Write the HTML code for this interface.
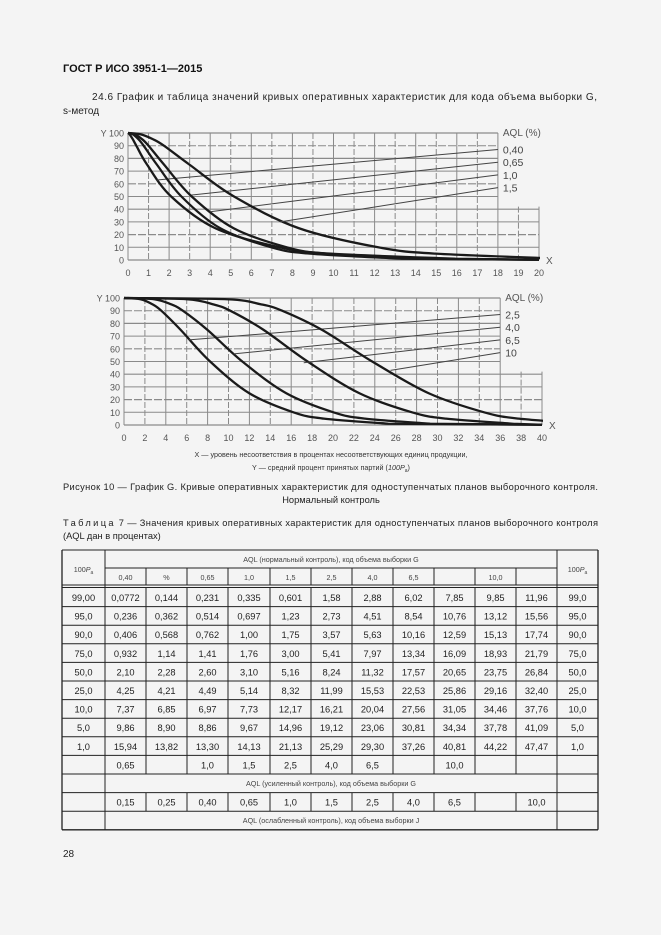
<!DOCTYPE html>
<html><head><meta charset="utf-8">
<style>
html,body{margin:0;padding:0;background:#f4f4f4;}
svg{display:block;font-family:"Liberation Sans","DejaVu Sans",sans-serif;}
</style></head>
<body>
<svg id="pg" width="661" height="935" viewBox="0 0 661 935" xmlns="http://www.w3.org/2000/svg">
<rect width="661" height="935" fill="#f4f4f4"/>
<text x="63" y="72" font-size="11" font-weight="bold" fill="#111">ГОСТ Р ИСО 3951-1—2015</text>
<text x="92" y="100" font-size="10" fill="#222" textLength="505">24.6 График и таблица значений кривых оперативных характеристик для кода объема выборки G,</text>
<text x="63" y="114" font-size="10" fill="#222">s-метод</text>
<g id="c1"></g>
<g id="c2"></g>
<text x="331" y="457" font-size="7.2" fill="#333" text-anchor="middle">X — уровень несоответствия в процентах несоответствующих единиц продукции,</text>
<text x="331" y="470" font-size="7.2" fill="#333" text-anchor="middle">Y — средний процент принятых партий (<tspan font-style="italic">100P</tspan><tspan font-size="5" dy="2">a</tspan><tspan dy="-2">)</tspan></text>
<text x="63" y="490" font-size="9.3" fill="#222" textLength="535">Рисунок 10 — График G. Кривые оперативных характеристик для одноступенчатых планов выборочного контроля.</text>
<text x="331" y="503" font-size="9.3" fill="#222" text-anchor="middle">Нормальный контроль</text>
<text x="63" y="526" font-size="9.3" fill="#222" textLength="535"><tspan letter-spacing="2">Таблица</tspan> 7 — Значения кривых оперативных характеристик для одноступенчатых планов выборочного контроля</text>
<text x="63" y="539" font-size="9.3" fill="#222">(AQL дан в процентах)</text>
<g id="tbl"></g>
<text x="63" y="857" font-size="10" fill="#222">28</text>
</svg>
<script>
// Pa levels (%) and x-values per AQL column (from Table 7)
const paLevels = [99, 95, 90, 75, 50, 25, 10, 5, 1];
const aql040 = [0.0772, 0.236, 0.406, 0.932, 2.10, 4.25, 7.37, 9.86, 15.94];
const aql065 = [0.231, 0.514, 0.762, 1.41, 2.60, 4.49, 6.97, 8.86, 13.30];
const aql10 = [0.335, 0.697, 1.00, 1.76, 3.10, 5.14, 7.73, 9.67, 14.13];
const aql15 = [0.601, 1.23, 1.75, 3.00, 5.16, 8.32, 12.17, 14.96, 21.13];
const aql25 = [1.58, 2.73, 3.57, 5.41, 8.24, 11.99, 16.21, 19.12, 25.29];
const aql40 = [2.88, 4.51, 5.63, 7.97, 11.32, 15.53, 20.04, 23.06, 29.30];
const aql65 = [6.02, 8.54, 10.16, 13.34, 17.57, 22.53, 27.56, 30.81, 37.26];
const aql100 = [9.85, 13.12, 15.13, 18.93, 23.75, 29.16, 34.46, 37.78, 44.22];
const topLabels = ["0,40", "0,65", "1,0", "1,5"];
const botLabels = ["2,5", "4,0", "6,5", "10"];
const topLeaderStart = [[1.4, 63], [3, 51], [4, 38], [7.4, 30]];
const botLeaderStart = [[6.2, 67], [10.5, 56], [17.2, 49], [25.5, 43]];
const yTicks = [0, 10, 20, 30, 40, 50, 60, 70, 80, 90, 100];

const NS = "http://www.w3.org/2000/svg";
function mk(tag, attrs, parent) {
  const e = document.createElementNS(NS, tag);
  for (const k in attrs) e.setAttribute(k, attrs[k]);
  parent.appendChild(e);
  return e;
}

function chart(g, cfg) {
  const sx = v => cfg.x0 + (v / cfg.xmax) * (cfg.x1 - cfg.x0);
  const sy = v => cfg.y0 - (v / 100) * (cfg.y0 - cfg.y1);
  // grid
  for (let v = 0; v <= cfg.xmax; v += cfg.xstep) {
    const top = v > cfg.legendX ? sy(42) : sy(100);
    const l = mk("line", {x1: sx(v), x2: sx(v), y1: top, y2: sy(0), stroke: "#8a8a8a", "stroke-width": 1, "stroke-dasharray": v % (cfg.xstep*2) === 0 ? "none" : "6,2"}, g);
    
    
    const t = mk("text", {x: sx(v), y: cfg.y0 + 16, "font-size": 9, fill: "#555", "text-anchor": "middle"}, g);
    
    
    t.textContent = v;
  }
  yTicks.forEach(v => {
    const right = v >= 50 ? sx(cfg.legendX) : sx(cfg.xmax);
    const l = mk("line", {x1: sx(0), x2: right, y1: sy(v), y2: sy(v), stroke: "#8a8a8a", "stroke-width": v % 20 === 0 ? 1.2 : 1, "stroke-dasharray": (v === 20 || v === 60 || v === 90) ? "8,2" : "none"}, g);
    
    
    const t = mk("text", {x: sx(0) - 4, y: sy(v) + 3.5, "font-size": 9, fill: "#555", "text-anchor": "end"}, g);
    
    
    t.textContent = (v === 100 ? "Y " : "") + v;
  });
  const xl = mk("text", {x: sx(cfg.xmax) + 7, y: sy(0) + 4, "font-size": 10, fill: "#555"}, g);
  
  
  xl.textContent = "X";
  const lt = mk("text", {x: sx(cfg.legendX) + 5, y: sy(100) + 3, "font-size": 10, fill: "#555"}, g);
  
  
  lt.textContent = "AQL (%)";
  // curves
  cfg.series.forEach((xs, i) => {
    const pts = [[0, 100]].concat(xs.map((x, j) => [x, paLevels[j]]));
    const P = pts.map(p => [sx(Math.min(p[0], cfg.xmax * 1.2)), sy(p[1])]);
    let d = "M" + P[0][0] + "," + P[0][1];
    for (let k = 0; k < P.length - 1; k++) {
      const p0 = P[Math.max(k - 1, 0)], p1 = P[k], p2 = P[k + 1], p3 = P[Math.min(k + 2, P.length - 1)];
      const c1x = p1[0] + (p2[0] - p0[0]) / 6, c1y = p1[1] + (p2[1] - p0[1]) / 6;
      const c2x = p2[0] - (p3[0] - p1[0]) / 6, c2y = p2[1] - (p3[1] - p1[1]) / 6;
      d += " C" + c1x + "," + c1y + " " + c2x + "," + c2y + " " + p2[0] + "," + p2[1];
    }
    const last = P[P.length - 1];
    if (last[0] < sx(cfg.xmax)) d += " L" + sx(cfg.xmax) + "," + (last[1] + 1);
    const cp = mk("clipPath", {id: "cl" + cfg.id}, g);
    mk("rect", {x: sx(0) - 2, y: sy(100) - 3, width: sx(cfg.xmax) - sx(0) + 3, height: sy(0) - sy(100) + 4}, cp);
    const path = mk("path", {d: d, fill: "none", stroke: "#1a1a1a", "stroke-width": 2.3, "clip-path": "url(#cl" + cfg.id + ")"}, g);
    
    
    // leader line & label
    const ly = 87 - i * 10;
    const s = cfg.leaders[i];
    const ln = mk("line", {x1: sx(s[0]), y1: sy(s[1]), x2: sx(cfg.legendX), y2: sy(ly), stroke: "#444", "stroke-width": 1}, g);
    
    
    const lb = mk("text", {x: sx(cfg.legendX) + 5, y: sy(ly) + 4, "font-size": 10.5, fill: "#444"}, g);
    
    
    lb.textContent = cfg.labels[i];
  });
}

chart(document.getElementById("c1"), {id: 1, x0: 128, x1: 539, y0: 260, y1: 133, xmax: 20, xstep: 1, legendX: 18,
  series: [aql040, aql065, aql10, aql15], labels: topLabels, leaders: topLeaderStart});
chart(document.getElementById("c2"), {id: 2, x0: 124, x1: 542, y0: 425, y1: 298, xmax: 40, xstep: 2, legendX: 36,
  series: [aql25, aql40, aql65, aql100], labels: botLabels, leaders: botLeaderStart});

// table
const colEdges = [62, 105, 146, 187, 228, 270, 311, 352, 393, 434, 475, 516, 557, 598];
const headCols = ["0,40", "%", "0,65", "1,0", "1,5", "2,5", "4,0", "6,5", "", "10,0", ""];
const rowLabels = ["99,00", "95,0", "90,0", "75,0", "50,0", "25,0", "10,0", "5,0", "1,0"];
const rightLabels = ["99,0", "95,0", "90,0", "75,0", "50,0", "25,0", "10,0", "5,0", "1,0"];
const tableRows = [
 ["0,0772","0,144","0,231","0,335","0,601","1,58","2,88","6,02","7,85","9,85","11,96"],
 ["0,236","0,362","0,514","0,697","1,23","2,73","4,51","8,54","10,76","13,12","15,56"],
 ["0,406","0,568","0,762","1,00","1,75","3,57","5,63","10,16","12,59","15,13","17,74"],
 ["0,932","1,14","1,41","1,76","3,00","5,41","7,97","13,34","16,09","18,93","21,79"],
 ["2,10","2,28","2,60","3,10","5,16","8,24","11,32","17,57","20,65","23,75","26,84"],
 ["4,25","4,21","4,49","5,14","8,32","11,99","15,53","22,53","25,86","29,16","32,40"],
 ["7,37","6,85","6,97","7,73","12,17","16,21","20,04","27,56","31,05","34,46","37,76"],
 ["9,86","8,90","8,86","9,67","14,96","19,12","23,06","30,81","34,34","37,78","41,09"],
 ["15,94","13,82","13,30","14,13","21,13","25,29","29,30","37,26","40,81","44,22","47,47"]];
const tightRow = ["0,65","","1,0","1,5","2,5","4,0","6,5","","10,0","",""];
const reducedRow = ["0,15","0,25","0,40","0,65","1,0","1,5","2,5","4,0","6,5","","10,0"];

const T = document.getElementById("tbl");
const top0 = 550, h1 = 568, h2 = 585, rh = 18.6;
const rowsY = [];
for (let r = 0; r <= 13; r++) rowsY.push(588 + r * rh);
const bottom = rowsY[13];
function L(x1, y1, x2, y2, w) {
  const l = mk("line", {x1, y1, x2, y2, stroke: "#222", "stroke-width": w || 1}, T);
  
  
}
function Tx(x, y, s, fs, col) {
  const t = mk("text", {x, y, "font-size": fs, fill: col || "#222", "text-anchor": "middle"}, T);
  
  
  t.textContent = s;
  return t;
}
// outer + header
L(62, top0, 598, top0); L(62, bottom, 598, bottom, 1.3);
L(62, top0, 62, bottom, 1.3); L(598, top0, 598, bottom, 1.3);
L(105, top0, 105, bottom); L(557, top0, 557, bottom);
L(105, h1, 557, h1);
L(62, h2, 598, h2); L(62, h2 + 2.5, 598, h2 + 2.5);
for (let c = 2; c < 13; c++) { L(colEdges[c], h1, colEdges[c], h2); }
// body rows
for (let r = 1; r < 13; r++) L(62, rowsY[r], 598, rowsY[r]);
for (let c = 2; c < 13; c++) {
  L(colEdges[c], rowsY[0], colEdges[c], rowsY[10]);
  L(colEdges[c], rowsY[11], colEdges[c], rowsY[12]);
}
const cx = c => (colEdges[c] + colEdges[c + 1]) / 2;
function pa(x, y) {
  const t = Tx(x, y, "100", 7.2, "#444");
  const a = mk("tspan", {"font-style": "italic"}, t); a.textContent = "P";
  const b = mk("tspan", {"font-size": 5, dy: 2}, t); b.textContent = "a";
}
pa(83.5, 572); pa(577.5, 572);
Tx(331, 562, "AQL (нормальный контроль), код объема выборки G", 7.2, "#444");
headCols.forEach((s, i) => Tx(cx(i + 1), 580, s, 7.2, "#444"));
tableRows.forEach((row, r) => {
  const y = rowsY[r] + 13;
  Tx(cx(0), y, rowLabels[r], 9.3);
  row.forEach((s, i) => Tx(cx(i + 1), y, s, 9.3));
  Tx(cx(12), y, rightLabels[r], 9.3);
});
tightRow.forEach((s, i) => Tx(cx(i + 1), rowsY[9] + 13, s, 9.3));
Tx(331, rowsY[10] + 12, "AQL (усиленный контроль), код объема выборки G", 7.2, "#444");
reducedRow.forEach((s, i) => Tx(cx(i + 1), rowsY[11] + 13, s, 9.3));
Tx(331, rowsY[12] + 12, "AQL (ослабленный контроль), код объема выборки J", 7.2, "#444");
</script>
</body></html>
